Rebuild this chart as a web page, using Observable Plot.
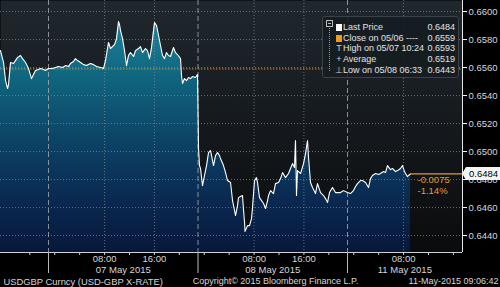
<!DOCTYPE html>
<html><head><meta charset="utf-8">
<script src="https://cdn.jsdelivr.net/npm/d3@7"></script>
<script src="https://cdn.jsdelivr.net/npm/@observablehq/plot@0.6"></script>
<style>
html,body{margin:0;padding:0;background:#000;}
#wrap{position:relative;width:500px;height:287px;overflow:hidden;font-family:"Liberation Sans",Arial,sans-serif;}
#legend{position:absolute;left:322px;top:16px;width:137px;height:62px;box-sizing:border-box;
  background:rgba(22,28,33,0.88);border:1px solid #3a4349;border-radius:3px;color:#e2e2e2;font-size:9px;}
#legend .row{position:absolute;left:0;width:100%;height:11px;line-height:11px;}
#legend .lab{position:absolute;left:20px;white-space:nowrap;}
#legend .val{position:absolute;right:3px;}
#legend .ic{position:absolute;left:13px;top:2px;width:6px;height:7px;}
#legend .sym{position:absolute;left:12px;top:0;width:8px;text-align:center;font-size:9px;color:#ccc;}
#legend .tree{position:absolute;left:6px;top:11px;width:0;height:43px;border-left:1px dotted #999;}
#legend .box{position:absolute;left:3px;top:3px;width:5px;height:5px;border:1px solid #bbb;font-size:0;}
#legend .box:after{content:"";position:absolute;left:1px;top:2px;width:3px;height:1px;background:#bbb;}
</style></head><body><div id="wrap"></div>
<script>
// Trading hours since 06 May 2015 23:00 (weekend removed), and USDGBP price
const hours = [-7.71,-7.22,-6.90,-6.58,-6.42,-6.10,-5.62,-4.98,-4.50,-4.17,-3.69,-3.21,-2.73,-2.41,-2.09,-1.61,-1.28,-0.80,-0.48,
  0,0.64,1.12,1.61,2.25,2.73,3.21,3.53,4.01,4.33,4.66,5.14,5.62,6.10,6.74,7.22,7.71,8.35,8.83,9.15,9.47,9.63,9.95,10.27,10.60,10.92,
  11.24,11.40,11.56,11.88,12.20,12.52,12.84,13.16,13.65,13.97,14.45,14.77,15.09,15.57,15.89,16.21,16.54,16.86,17.02,17.34,17.66,17.98,
  18.30,18.62,18.94,19.26,19.59,20.07,20.39,20.71,21.19,21.35,21.51,21.83,22.15,22.48,22.80,23.12,23.60,23.92,
  24.08,24.24,24.40,24.72,25.04,25.37,25.69,26.01,26.33,26.49,26.81,27.13,27.45,27.61,28.09,28.42,28.74,29.22,29.54,29.86,30.02,30.34,
  30.50,30.82,31.14,31.31,31.47,31.55,31.95,32.27,32.59,32.75,33.07,33.39,33.55,33.87,34.20,34.52,34.84,35.16,35.32,35.64,36.12,36.44,
  36.92,37.25,37.57,38.05,38.53,38.85,39.17,39.49,39.65,39.81,39.97,40.46,40.94,41.26,41.58,41.74,42.06,42.38,42.86,43.18,43.67,44.15,
  44.47,44.79,45.11,45.59,46.07,46.56,46.88,47.36,48.00,48.48,48.96,49.29,49.61,50.09,50.41,50.89,51.37,51.69,52.01,52.50,52.98,53.30,
  53.78,54.10,54.42,54.90,55.23,55.71,56.03,56.51,56.83,57.15,57.31,57.63,57.79,58.11];
const prices = [0.65721,0.65636,0.65507,0.65450,0.65479,0.65636,0.65629,0.65671,0.65686,0.65664,0.65636,0.65593,0.65521,0.65550,0.65579,0.65586,0.65593,0.65586,0.65579,
  0.65593,0.65593,0.65600,0.65607,0.65600,0.65614,0.65607,0.65629,0.65643,0.65664,0.65650,0.65636,0.65621,0.65614,0.65629,0.65621,0.65607,0.65600,0.65593,0.65650,0.65736,0.65779,0.65736,0.65750,0.65764,0.65807,
  0.65929,0.65907,0.65864,0.65807,0.65721,0.65614,0.65686,0.65707,0.65679,0.65721,0.65736,0.65750,0.65707,0.65736,0.65721,0.65664,0.65743,0.65864,0.65922,0.65900,0.65829,0.65757,
  0.65686,0.65664,0.65707,0.65686,0.65679,0.65743,0.65707,0.65693,0.65664,0.65543,0.65486,0.65521,0.65507,0.65529,0.65521,0.65536,0.65529,0.65550,
  0.65021,0.64900,0.64879,0.64757,0.64829,0.64900,0.64993,0.65007,0.64936,0.64900,0.64971,0.64993,0.64971,0.64950,0.64900,0.64850,0.64793,0.64779,0.64650,0.64579,0.64543,0.64614,
  0.64671,0.64679,0.64686,0.64579,0.64493,0.64430,0.64471,0.64471,0.64521,0.64600,0.64793,0.64814,0.64779,0.64671,0.64650,0.64629,0.64593,0.64650,0.64686,0.64721,0.64700,0.64771,
  0.64779,0.64807,0.64850,0.64814,0.64843,0.64879,0.64914,0.64886,0.65079,0.64686,0.64864,0.64843,0.64914,0.64986,0.65079,0.64957,0.64779,0.64743,0.64700,0.64771,0.64707,0.64686,
  0.64664,0.64636,0.64707,0.64743,0.64707,0.64707,0.64707,0.64721,0.64707,0.64700,0.64721,0.64750,0.64771,0.64793,0.64793,0.64779,0.64743,0.64807,0.64829,0.64843,0.64836,0.64843,
  0.64857,0.64850,0.64900,0.64871,0.64879,0.64857,0.64864,0.64879,0.64900,0.64857,0.64843,0.64821,0.64829,0.64840];

const yTicks = [0.6440,0.6460,0.6480,0.6500,0.6520,0.6540,0.6560,0.6580,0.6600];
const xMajorHours = [9,17,33,41,57];
const xMajorLabels = ["08:00","16:00","08:00","16:00","08:00"];
const xMinorHours = [-3,1,5,9,13,17,21,25,29,33,37,41,45,49,53,57,61,65];
const daySepHours = [0,24,48];
const dayLabels = ["07 May 2015","08 May 2015","11 May 2015"];
const dayLabelHours = [12,36,57.2];
const xDomain = [-7.71,66.46];
const yDomain = [0.64279,0.66079];
const closePrice = 0.6559;
const legendLabels = ["Last Price","Close on 05/06 ----","High on 05/07 10:24","Average","Low on 05/08 06:33"];
const legendValues = ["0.6484","0.6559","0.6593","0.6519","0.6443"];
const footer = ["USDGBP Curncy (USD-GBP X-RATE)","Copyright\u00a9 2015 Bloomberg Finance L.P.","11-May-2015 09:06:42"];

const data = hours.map((h,i)=>({h, p: prices[i]}));
const last = data[data.length-1];
const change = last.p - closePrice;
const pct = change / closePrice * 100;
const fmt = f => v => d3.format(f)(v).replace("\u2212", "-");

const orange = "#e39a2c";
const font = "Liberation Sans, Arial, sans-serif";

const chart = Plot.plot({
  width: 500, height: 287,
  marginLeft: 0, marginRight: 38, marginTop: 0, marginBottom: 35,
  style: {background: "#000", color: "#d6d6d6", fontFamily: font, fontSize: "9px"},
  x: {type: "linear", domain: xDomain, axis: null, label: null},
  y: {domain: yDomain, axis: null, label: null},
  marks: [
    Plot.frame({fill: "url(#bgGrad)", stroke: "none"}),
    Plot.areaY(data, {x: "h", y1: yDomain[0], y2: "p", fill: "url(#areaGrad)"}),
    Plot.ruleY(yTicks, {stroke: "#8a9096", strokeOpacity: 0.7, strokeDasharray: "1,2"}),
    Plot.ruleX(xMajorHours, {stroke: "#8a9096", strokeOpacity: 0.7, strokeDasharray: "1,2"}),
    Plot.ruleX(daySepHours, {stroke: "#a8adb2", strokeOpacity: 0.8, strokeDasharray: "5,3"}),
    Plot.ruleY([closePrice], {stroke: orange, strokeDasharray: "1.5,1.5", strokeOpacity: 0.85}),
    Plot.line(data, {x: "h", y: "p", stroke: "#ffffff", strokeWidth: 1.1}),
    Plot.ruleY([last.p], {x1: last.h, x2: xDomain[1], stroke: orange, strokeWidth: 1.2}),
    Plot.text([last], {x: "h", y: "p", text: () => fmt(".4f")(change), dx: 7, dy: 6, textAnchor: "start", fill: orange, fontSize: 9.5}),
    Plot.text([last], {x: "h", y: "p", text: () => fmt(".2f")(pct) + "%", dx: 7, dy: 17, textAnchor: "start", fill: orange, fontSize: 9.5}),
    Plot.ruleY([yDomain[0]], {stroke: "#cfd2d4"}),
    Plot.ruleX([xDomain[1]], {stroke: "#e8e8e8"}),
    Plot.axisY(yTicks, {anchor: "right", label: null, tickSize: 4, tickPadding: 2, tickFormat: d3.format(".4f"), fontSize: 9.5, stroke: "#fff", fill: "#d6d6d6"}),
    Plot.axisX(xMinorHours, {label: null, tickSize: 3, tickFormat: () => "", stroke: "#cfd2d4"}),
    Plot.axisX(daySepHours, {label: null, tickSize: 21, tickFormat: () => "", stroke: "#b8bbbe"}),
    Plot.text(xMajorHours, {x: d => d, text: (d, i) => xMajorLabels[i], frameAnchor: "bottom", dy: 6, lineAnchor: "middle", fontSize: 9.5}),
    Plot.text(dayLabelHours, {x: d => d, text: (d, i) => dayLabels[i], frameAnchor: "bottom", dy: 17, lineAnchor: "middle", fontSize: 9.5}),
    Plot.text([footer[0]], {text: d => d, frameAnchor: "bottom-left", dx: 3, dy: 29, lineAnchor: "middle", textAnchor: "start", fontSize: 9.4}),
    Plot.text([footer[1]], {text: d => d, frameAnchor: "bottom", dx: 44, dy: 29, lineAnchor: "middle", textAnchor: "middle", fontSize: 9}),
    Plot.text([footer[2]], {text: d => d, frameAnchor: "bottom-right", dx: 36, dy: 29, lineAnchor: "middle", textAnchor: "end", fontSize: 9})
  ]
});

const svg = d3.select(chart);
const defs = svg.insert("defs", ":first-child");
const bg = defs.append("linearGradient").attr("id", "bgGrad").attr("gradientUnits", "userSpaceOnUse")
  .attr("x1", 0).attr("x2", 0).attr("y1", 0).attr("y2", 252);
bg.append("stop").attr("offset", 0).attr("stop-color", "#1f282e");
bg.append("stop").attr("offset", 0.5).attr("stop-color", "#15191d");
bg.append("stop").attr("offset", 1).attr("stop-color", "#0a0b0d");
const ag = defs.append("linearGradient").attr("id", "areaGrad").attr("gradientUnits", "userSpaceOnUse")
  .attr("x1", 0).attr("x2", 0).attr("y1", 0).attr("y2", 252);
[[0, "#1f8da5"], [0.3, "#10667f"], [0.55, "#0c4466"], [0.8, "#0a2850"], [1, "#07183a"]]
  .forEach(([o, c]) => ag.append("stop").attr("offset", o).attr("stop-color", c));

// last price tag on the right axis
const yS = chart.scale("y"), xS = chart.scale("x");
const ty = yS.apply(last.p), tx = xS.apply(xDomain[1]);
const tag = svg.append("g");
tag.append("path").attr("d", `M${tx},${ty} L${tx+4},${ty-6.5} L500,${ty-6.5} L500,${ty+6.5} L${tx+4},${ty+6.5} Z`)
  .attr("fill", "#f4f4f4");
tag.append("text").attr("x", tx + 7).attr("y", ty).attr("dy", "0.35em").attr("fill", "#000")
  .attr("text-anchor", "start").attr("font-size", 9.5).attr("font-family", font).text(d3.format(".4f")(last.p));

const wrap = document.getElementById("wrap");
wrap.appendChild(chart);

// legend box
const lg = document.createElement("div");
lg.id = "legend";
const icons = [
  '<div class="ic" style="background:#fff"></div>',
  '<div class="ic" style="background:#f09a1c"></div>',
  '<div class="sym">T</div>',
  '<div class="sym">+</div>',
  '<div class="sym">\u22a5</div>'
];
let html = '<div class="box"></div><div class="tree"></div>';
legendLabels.forEach((l, i) => {
  html += `<div class="row" style="top:${5 + i * 10.7}px">${icons[i]}<span class="lab">${l}</span><span class="val">${legendValues[i]}</span></div>`;
});
lg.innerHTML = html;
wrap.appendChild(lg);
</script>
</body></html>
